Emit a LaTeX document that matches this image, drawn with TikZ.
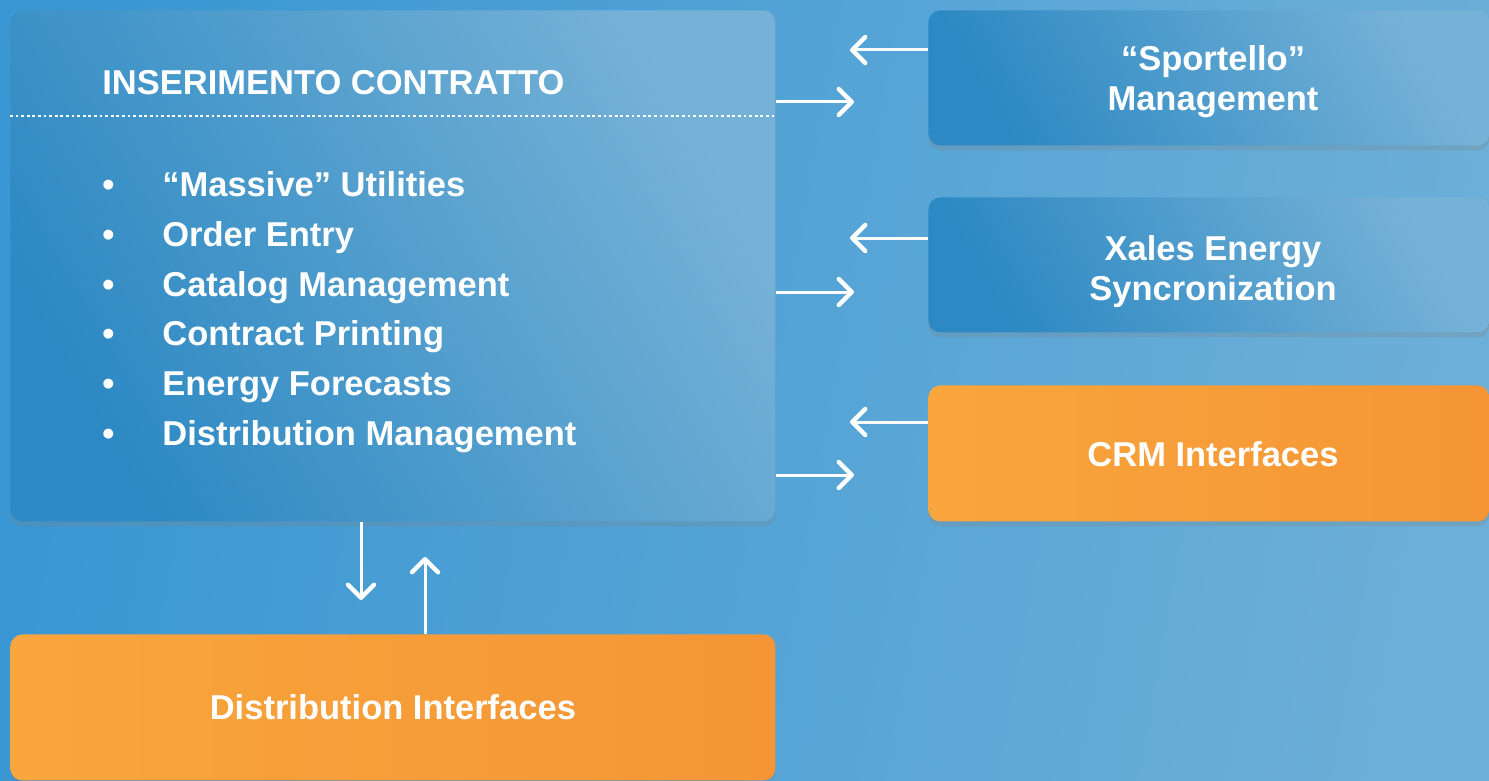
\documentclass[tikz,border=0pt]{standalone}
\usepackage{fontspec}
\setmainfont{Liberation Sans}
\usetikzlibrary{arrows.meta,shadows,calc}
\definecolor{bgL}{HTML}{3A97D3}
\definecolor{bgR}{HTML}{6CAFD8}
\definecolor{bluedark}{HTML}{2D89C3}
\definecolor{bluelight}{HTML}{76B2D7}
\definecolor{orL}{HTML}{F8A63D}
\definecolor{orR}{HTML}{F59535}
\tikzset{
  box/.style={rounded corners=6pt, anchor=north west, inner sep=0pt, text=white,
    font=\fontsize{17.25}{20}\selectfont\bfseries, align=center,
    drop shadow={opacity=0.25, shadow xshift=0pt, shadow yshift=-2.5pt}},
  bluebox/.style={box, bottom color=bluedark, top color=bluelight, shading angle=-60},
  orangebox/.style={box, left color=orL, right color=orR},
  txt/.style={text=white, inner sep=0pt, font=\fontsize{17.25}{20}\selectfont\bfseries},
  arr/.style={draw=white, line width=1.5pt, -{Straight Barb[length=6.5pt,width=13pt,line width=2.2pt,round]}}
}
\begin{document}
\begin{tikzpicture}[x=0.5pt,y=-0.5pt]
\useasboundingbox (0,0) rectangle (1489,781);
\shade[left color=bgL, right color=bgR, shading angle=80] (0,0) rectangle (1489,781);
% main box
\node[bluebox, minimum width=382.5pt, minimum height=255.5pt] (main) at (10,10) {};
\node[txt, anchor=base west] (title) at (102,95) {INSERIMENTO CONTRATTO};
\draw[white, line width=1.1pt, dash pattern=on 1.4pt off 1.4pt] ($(main.west |- 0,116)$) coordinate (dl) -- ($(main.east |- 0,116)$) coordinate (dr);
\foreach \t [count=\i from 0] in {“Massive” Utilities, Order Entry, Catalog Management, Contract Printing, Energy Forecasts, Distribution Management}{
  \node[txt, anchor=base west] (item\i) at (102,197+49.6*\i) {\makebox[30pt][l]{•}\t};
}
% right boxes
\node[bluebox, minimum width=280.5pt, minimum height=67.5pt] (sport) at (928,10) {};
\node[txt, align=center] (sporttxt) at (1213,82) {“Sportello”\\[0pt]Management};
\node[bluebox, minimum width=280.5pt, minimum height=67.5pt] (xales) at (928,197) {};
\node[txt, align=center] (xalestxt) at (1213,272) {Xales Energy\\Syncronization};
\node[orangebox, minimum width=280.5pt, minimum height=68pt] (crm) at (928,385) {};
\node[txt] (crmtxt) at (1213,454) {CRM Interfaces};
\node[orangebox, minimum width=382.5pt, minimum height=73pt] (dist) at (10,634) {Distribution Interfaces};
% arrows
\coordinate (s1) at (850,50);  \coordinate (s2) at (854,102);
\coordinate (x1) at (850,238); \coordinate (x2) at (854,292);
\coordinate (c1) at (850,422); \coordinate (c2) at (854,475);
\draw[arr] (sport.west |- s1) -- (s1);
\draw[arr] (main.east |- s2) -- (s2);
\draw[arr] (xales.west |- x1) -- (x1);
\draw[arr] (main.east |- x2) -- (x2);
\draw[arr] (crm.west |- c1) -- (c1);
\draw[arr] (main.east |- c2) -- (c2);
\coordinate (d1) at (361,600); \coordinate (d2) at (425,557);
\draw[arr] (main.south -| d1) -- (d1);
\draw[arr] (dist.north -| d2) -- (d2);
\end{tikzpicture}
\end{document}
